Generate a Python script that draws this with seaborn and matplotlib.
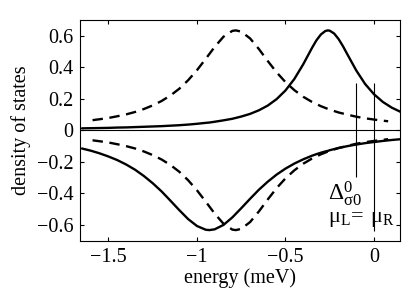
import matplotlib
matplotlib.use("Agg")
import matplotlib.pyplot as plt
import pandas as pd
import seaborn as sns

# energy grid (meV) for the solid curves
energia_solida = [-1.65, -1.60, -1.55, -1.50, -1.45, -1.40, -1.35, -1.30, -1.25, -1.20,
                  -1.15, -1.10, -1.05, -1.00, -0.95, -0.93, -0.90, -0.85, -0.80, -0.75,
                  -0.70, -0.65, -0.60, -0.55, -0.50, -0.45, -0.40, -0.35, -0.325, -0.30,
                  -0.275, -0.26, -0.25, -0.225, -0.20, -0.175, -0.15, -0.10, -0.05, 0.00,
                  0.05, 0.10, 0.15]

dos_arriba_solida = [0.012, 0.013, 0.014, 0.015, 0.017, 0.018, 0.020, 0.022, 0.024, 0.026,
                     0.029, 0.032, 0.036, 0.041, 0.047, 0.049, 0.054, 0.063, 0.073, 0.087,
                     0.104, 0.127, 0.157, 0.198, 0.253, 0.326, 0.419, 0.524, 0.572, 0.609,
                     0.631, 0.635, 0.633, 0.615, 0.580, 0.534, 0.482, 0.380, 0.294, 0.229,
                     0.180, 0.144, 0.117]

dos_abajo_solida = [-0.116, -0.130, -0.147, -0.167, -0.190, -0.218, -0.251, -0.291, -0.337, -0.389,
                    -0.448, -0.508, -0.565, -0.609, -0.633, -0.635, -0.630, -0.602, -0.554, -0.496,
                    -0.436, -0.378, -0.327, -0.282, -0.244, -0.212, -0.185, -0.162, -0.152, -0.143,
                    -0.135, -0.131, -0.127, -0.120, -0.113, -0.107, -0.101, -0.091, -0.082, -0.075,
                    -0.068, -0.062, -0.057]

# energy grid (meV) for the dashed curves
energia_discontinua = [-1.59, -1.55, -1.50, -1.45, -1.40, -1.35, -1.30, -1.25, -1.20, -1.15,
                       -1.10, -1.05, -1.00, -0.95, -0.90, -0.85, -0.80, -0.78, -0.75, -0.70,
                       -0.65, -0.60, -0.55, -0.50, -0.45, -0.40, -0.35, -0.30, -0.25, -0.20,
                       -0.15, -0.10, -0.05, 0.00, 0.05, 0.08]

dos_arriba_discontinua = [0.064, 0.070, 0.078, 0.089, 0.101, 0.116, 0.135, 0.158, 0.186, 0.221,
                          0.264, 0.318, 0.382, 0.455, 0.530, 0.595, 0.632, 0.635, 0.627, 0.584,
                          0.516, 0.440, 0.368, 0.306, 0.255, 0.213, 0.180, 0.153, 0.131, 0.113,
                          0.099, 0.086, 0.076, 0.068, 0.061, 0.057]

dos_abajo_discontinua = [-0.064, -0.070, -0.078, -0.089, -0.101, -0.116, -0.135, -0.158, -0.186, -0.221,
                         -0.264, -0.318, -0.382, -0.455, -0.530, -0.595, -0.632, -0.635, -0.627, -0.584,
                         -0.516, -0.440, -0.368, -0.306, -0.255, -0.213, -0.180, -0.153, -0.131, -0.113,
                         -0.099, -0.086, -0.076, -0.068, -0.061, -0.057]

# marker lines: Delta^0_sigma0 and mu_L = mu_R
marcas_x = [-0.1, 0.0]
marcas_ymin = [-0.30, -0.64]
marcas_ymax = [0.30, 0.30]

xticks = [-1.5, -1.0, -0.5, 0.0]
xticklabels = ["\u22121.5", "\u22121", "\u22120.5", "0"]
yticks = [0.6, 0.4, 0.2, 0.0, -0.2, -0.4, -0.6]
yticklabels = ["0.6", "0.4", "0.2", "0", "\u22120.2", "\u22120.4", "\u22120.6"]

sns.set_theme(style="ticks")
plt.rcParams["font.family"] = ["Liberation Serif", "DejaVu Serif"]
plt.rcParams["mathtext.fontset"] = "stix"
plt.rcParams["mathtext.default"] = "regular"
plt.rcParams["text.color"] = "black"
plt.rcParams["axes.labelcolor"] = "black"

df_sol = pd.DataFrame({"energia": energia_solida, "arriba": dos_arriba_solida, "abajo": dos_abajo_solida})
df_dis = pd.DataFrame({"energia": energia_discontinua, "arriba": dos_arriba_discontinua,
                       "abajo": dos_abajo_discontinua})

fig = plt.figure(figsize=(4.09, 3.01), dpi=100)
ax = fig.add_axes([0.196, 0.199, 0.782, 0.734])

ax.axhline(0, color="black", lw=0.8)

for col in ["arriba", "abajo"]:
    sns.lineplot(data=df_sol, x="energia", y=col, ax=ax, color="black", lw=1.7,
                 estimator=None, sort=False)
    sns.lineplot(data=df_dis, x="energia", y=col, ax=ax, color="black", lw=1.7,
                 estimator=None, sort=False, linestyle=(0, (4.4, 2.8)))

ax.vlines(marcas_x, marcas_ymin, marcas_ymax, color="black", lw=0.8)

ax.text(-0.262, -0.40, r"$\Delta^0_{\sigma 0}$", fontsize=17, ha="left", va="center")
ax.text(-0.262, -0.565, r"$\mu_L\!=\;\mu_R$", fontsize=16, ha="left", va="center")

ax.set_xlim(-1.66, 0.147)
ax.set_ylim(-0.705, 0.70)
ax.set_xticks(xticks)
ax.set_xticklabels(xticklabels)
ax.set_yticks(yticks)
ax.set_yticklabels(yticklabels)
ax.tick_params(direction="in", length=3, width=0.8, top=True, right=True, labelsize=14.5, pad=5,
               colors="black")

for s in ax.spines.values():
    s.set_linewidth(0.8)
    s.set_color("black")

ax.set_xlabel("energy (meV)", fontsize=14.5, labelpad=1)
ax.set_ylabel("density of states", fontsize=14.5, labelpad=4)

fig.savefig("out.png", dpi=100)
